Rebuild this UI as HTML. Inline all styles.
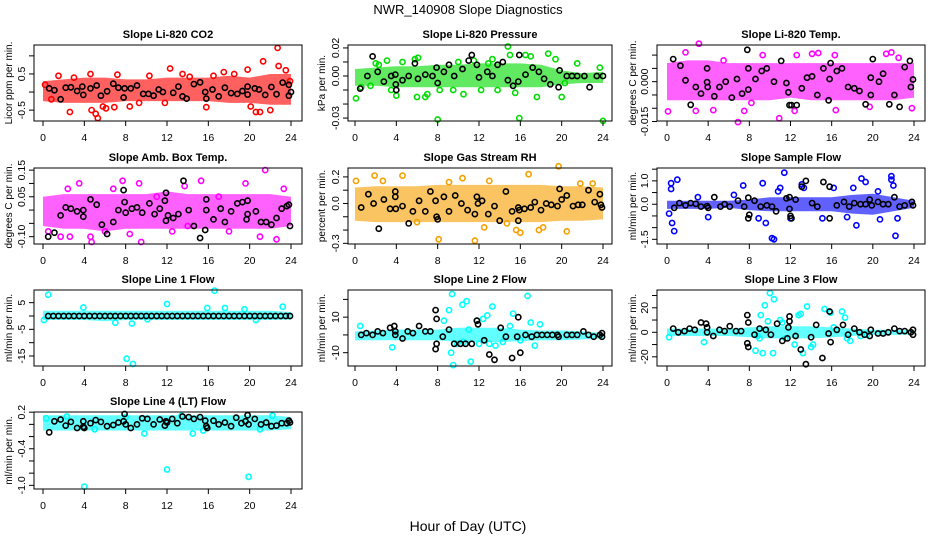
<!DOCTYPE html>
<html><head><meta charset="utf-8"><style>
html,body{margin:0;padding:0;background:#fff;}
svg{display:block;font-family:"Liberation Sans",Arial,sans-serif;}
</style></head><body>
<svg id="c" width="936" height="540" viewBox="0 0 936 540" xmlns="http://www.w3.org/2000/svg">
<text x="468" y="14" text-anchor="middle" font-size="13">NWR_140908  Slope Diagnostics</text>
<text x="468" y="531" text-anchor="middle" font-size="14">Hour of Day (UTC)</text>
</svg>
<script>
const hourTicks = [0,4,8,12,16,20,24];
const bandHours = [0,2,4,6,8,10,12,14,16,18,20,22,24];

const co2Title = "Slope Li-820 CO2";
const co2Ticks = [-0.5,0,0.5,1.0];
const co2TickLabels = ["-0.5","","0.5",""];
const co2BandLo = [-0.25,-0.3,-0.3,-0.3,-0.25,-0.25,-0.25,-0.25,-0.25,-0.3,-0.3,-0.35,-0.35];
const co2BandHi = [0.3,0.35,0.4,0.4,0.35,0.35,0.4,0.4,0.4,0.45,0.4,0.5,0.5];
const co2Pts = [[2.6,-0.55],[4.7,-0.5],[5.1,-0.6],[5.3,-0.72],[4.6,0.5],[7.2,0.48],[5.8,-0.4],[6.1,-0.45],[6.9,-0.42],[8.4,-0.4],[12.3,0.65],[13.5,0.5],[15.8,-0.42],[16.5,0.45],[17.5,0.55],[19.8,0.62],[20.1,-0.4],[20.6,-0.55],[21.0,-0.55],[21.3,0.85],[22.0,-0.5],[22.7,1.22],[22.8,0.72],[23.5,0.6],[10.3,0.45],[3.0,0.4],[1.5,0.45],[14.2,0.42],[18.5,0.5],[9.3,-0.3],[0.2,0.2],[0.8,-0.2],[11.8,-0.3],[23.9,0.3]];
const co2Black = [[0.6,0.1],[1.1,0.05],[1.7,-0.2],[2.2,0.12],[2.7,0.13],[3.3,0.03],[3.8,0.15],[3.9,-0.08],[4.6,0.1],[5.2,0.18],[5.6,-0.1],[6.2,0.02],[6.8,0.23],[7.3,0.12],[7.8,-0.15],[7.9,0.1],[8.5,0.1],[9.1,0.18],[9.7,-0.05],[10.2,-0.05],[10.7,-0.1],[11.2,0.07],[11.6,0.0],[12.6,-0.02],[13.1,0.15],[13.5,-0.12],[13.9,-0.18],[14.6,0.22],[15.2,0.27],[15.7,0.0],[15.8,-0.18],[16.4,0.07],[17.0,-0.12],[17.6,0.12],[18.2,-0.03],[18.8,-0.05],[19.3,0.03],[19.8,0.15],[19.8,-0.07],[20.5,0.1],[20.9,0.07],[21.5,-0.08],[22.1,0.14],[22.6,-0.06],[23.2,0.26],[23.8,0.2],[23.8,-0.1],[24,0.0]];

const presTitle = "Slope Li-820 Pressure";
const presTicks = [-0.03,-0.02,-0.01,0,0.01,0.02];
const presTickLabels = ["-0.03","","","0.00","","0.02"];
const presBandLo = [-0.007,-0.007,-0.008,-0.008,-0.008,-0.008,-0.008,-0.008,-0.008,-0.008,-0.006,-0.005,-0.005];
const presBandHi = [0.005,0.006,0.007,0.007,0.008,0.008,0.009,0.009,0.009,0.008,0.004,0.002,0.003];
const presPts = [[0.1,-0.016],[0.6,-0.008],[1.5,-0.007],[2.3,0.008],[3.1,0.011],[3.5,-0.01],[4.0,-0.014],[4.6,0.01],[5.8,0.012],[6.1,0.013],[6.0,-0.015],[6.8,-0.015],[7.0,-0.013],[8.0,-0.031],[8.2,-0.01],[9.5,-0.01],[10.5,-0.013],[11.5,0.011],[12.2,-0.01],[13.3,0.012],[13.8,-0.01],[14.8,0.021],[15.0,0.015],[15.5,-0.012],[15.9,-0.030],[16.5,0.015],[17.0,0.014],[17.6,-0.015],[18.7,0.016],[19.4,0.012],[20.0,-0.015],[20.3,-0.005],[21.5,0.009],[23.7,0.006],[24,-0.032],[12.9,0.009],[10.0,0.010],[2.0,0.009]];
const presBlack = [[0.5,-0.009],[1.2,0],[1.7,0.014],[2.2,0.003],[2.8,-0.004],[3.5,0],[3.9,0.001],[3.95,-0.006],[4,-0.01],[4.6,-0.003],[5.2,0],[5.8,0.009],[6.1,-0.002],[6.8,0.001],[7.5,0],[7.9,0.006],[8.0,-0.005],[8.6,0.003],[9.1,0.008],[9.6,0],[10.4,0.005],[11.0,0.011],[11.3,0.015],[11.8,0.008],[12.0,-0.001],[12.8,0.003],[13.3,0],[13.8,0.008],[14.3,0.010],[14.8,-0.003],[15.3,-0.007],[15.8,-0.004],[15.9,0.015],[16.5,0.001],[17.2,0.006],[17.8,0.003],[18.3,-0.002],[18.9,-0.006],[19.7,-0.008],[19.8,0.004],[20.5,0],[21.0,0],[21.5,0],[22.2,0],[22.7,-0.008],[23.4,0],[24,0]];

const tempTitle = "Slope Li-820 Temp.";
const tempTicks = [-0.015,-0.010,-0.005,0,0.005,0.010];
const tempTickLabels = ["-0.015","","","0.000","",""];
const tempBandLo = [-0.007,-0.007,-0.007,-0.007,-0.007,-0.007,-0.006,-0.007,-0.007,-0.007,-0.007,-0.007,-0.006];
const tempBandHi = [0.007,0.008,0.008,0.007,0.007,0.007,0.007,0.007,0.007,0.007,0.007,0.007,0.007];
const tempPts = [[3.1,0.0143],[6.9,-0.0152],[10.9,-0.0138],[0.1,-0.0112],[1.8,0.011],[4.5,-0.0107],[7.5,-0.011],[9.3,0.01],[12.6,0.01],[14.1,0.0105],[14.7,0.0108],[16.4,-0.0107],[16.3,0.01],[19.7,-0.0095],[21.3,0.0105],[21.8,0.011],[23.8,-0.01],[2.8,-0.011],[12.4,-0.011],[8.2,-0.008],[22.5,0.009],[5.5,0.008]];
const tempBlack = [[0.6,0.0085],[1.3,0.006],[1.8,0.0005],[2.3,-0.0087],[2.8,-0.002],[3.3,-0.0045],[3.9,0.005],[3.9,-0.0002],[3.95,-0.002],[4.6,-0.0055],[5.1,-0.002],[5.7,0.0],[6.3,-0.006],[6.8,0.001],[7.3,-0.0045],[7.8,0.012],[7.9,0.005],[7.9,-0.003],[8.6,0.001],[9.2,0.004],[9.7,0.005],[10.4,0],[11.1,0.0078],[11.6,-0.0005],[11.8,-0.004],[11.9,-0.0088],[12.1,-0.0088],[12.6,-0.0088],[13.1,-0.0025],[13.6,0.0015],[14.1,0.002],[14.6,-0.005],[15.2,0.005],[15.7,-0.007],[15.8,0.001],[15.9,0.007],[16.5,0.004],[17.0,0.005],[17.6,-0.002],[18.2,-0.0025],[18.7,-0.0035],[19.3,-0.0085],[19.8,0.0015],[19.8,-0.005],[20.0,0.0085],[20.6,0],[21.0,0.003],[21.6,-0.0085],[22.1,-0.005],[22.6,-0.0095],[23.1,0.0055],[23.6,0.0078],[23.7,-0.002],[23.9,0.0008]];

const ambTitle = "Slope Amb. Box Temp.";
const ambTicks = [-0.10,-0.05,0,0.05,0.10,0.15];
const ambTickLabels = ["-0.10","","","0.05","","0.15"];
const ambBandLo = [-0.06,-0.07,-0.07,-0.08,-0.07,-0.07,-0.07,-0.07,-0.07,-0.07,-0.07,-0.07,-0.06];
const ambBandHi = [0.05,0.06,0.06,0.06,0.06,0.06,0.07,0.06,0.06,0.06,0.06,0.06,0.05];
const ambPts = [[0.5,-0.08],[1.7,-0.1],[2.4,0.08],[3.5,0.1],[4.6,-0.1],[4.7,-0.12],[6.0,-0.08],[7.7,0.11],[8.4,-0.09],[9.3,0.1],[9.5,-0.12],[11.0,0.05],[13.7,0.09],[15.3,0.11],[17.0,0.05],[18.0,-0.08],[19.6,0.1],[21.0,-0.1],[21.5,0.15],[22.6,-0.11],[23.3,0.08],[12.5,-0.08],[2.6,-0.1],[14.0,-0.06],[6.8,0.08]];
const ambBlack = [[0.5,-0.1],[1.1,-0.085],[1.7,-0.02],[2.2,0.01],[2.7,0.005],[3.3,-0.005],[3.9,-0.025],[3.9,0],[4.6,0.04],[5.2,0.02],[5.7,-0.055],[6.2,-0.09],[6.8,-0.045],[7.3,0.0],[7.8,0.075],[7.9,0.03],[8.0,-0.01],[8.6,0.005],[9.1,0.01],[9.6,-0.01],[10.3,0.025],[10.8,-0.015],[11.3,0.005],[11.8,0.035],[11.9,0.065],[11.9,-0.04],[12.1,-0.02],[12.6,-0.03],[13.1,-0.015],[13.6,0.11],[14.1,0.0],[14.6,-0.06],[15.2,-0.105],[15.7,-0.075],[15.8,0.0],[15.8,0.04],[16.5,-0.035],[17.2,0.005],[17.6,-0.045],[18.2,-0.005],[18.8,0.025],[19.3,0.03],[19.7,-0.035],[19.8,0.035],[19.8,-0.015],[20.6,-0.005],[21.1,-0.045],[21.6,-0.045],[22.1,-0.055],[22.6,-0.03],[23.1,0.005],[23.6,0.015],[23.8,0.02],[23.9,-0.06]];

const rhTitle = "Slope Gas Stream RH";
const rhTicks = [-0.3,-0.2,-0.1,0,0.1,0.2];
const rhTickLabels = ["-0.3","","","0.0","","0.2"];
const rhBandLo = [-0.13,-0.14,-0.14,-0.14,-0.14,-0.14,-0.14,-0.14,-0.14,-0.14,-0.13,-0.13,-0.12];
const rhBandHi = [0.12,0.13,0.13,0.13,0.14,0.14,0.14,0.14,0.14,0.14,0.13,0.13,0.12];
const rhPts = [[0.1,0.17],[1.9,0.21],[2.7,0.17],[4.6,0.21],[8.1,-0.27],[9.1,0.16],[11.6,-0.28],[12.5,-0.18],[14.7,-0.15],[15.6,-0.2],[16.0,-0.22],[17.8,-0.2],[18.2,-0.18],[19.7,0.28],[20.5,-0.21],[21.8,0.15],[10.4,0.19],[16.8,0.22],[13.0,0.17],[6.0,-0.14],[23.0,0.15]];
const rhBlack = [[0.6,-0.03],[1.3,0.07],[1.8,0.0],[2.3,-0.19],[2.8,0.03],[3.4,-0.04],[3.9,0.09],[3.9,0.05],[3.95,-0.04],[4.6,-0.02],[5.2,-0.15],[5.6,-0.06],[6.2,0.02],[6.8,-0.06],[7.3,0.09],[7.8,0.02],[7.9,-0.1],[8.0,-0.12],[8.6,0.05],[9.1,-0.06],[9.7,0.06],[10.3,0.0],[10.9,-0.05],[11.6,-0.08],[11.8,0.05],[11.9,0.0],[12.3,0.02],[12.9,-0.08],[13.5,-0.02],[14.0,-0.13],[14.6,0.09],[15.2,-0.06],[15.8,-0.13],[15.8,-0.03],[15.9,-0.05],[16.4,-0.04],[17.0,-0.03],[17.4,0.01],[18.0,-0.05],[18.5,0.0],[19.0,-0.01],[19.6,-0.02],[19.8,0.11],[20.0,0.03],[20.5,0.06],[21.1,-0.02],[21.6,-0.01],[22.0,-0.01],[22.6,0.1],[23.2,0.01],[23.7,0.07],[23.8,-0.01],[23.9,-0.03]];

const sfTitle = "Slope Sample Flow";
const sfTicks = [-1.5,-1.0,-0.5,0,0.5,1.0,1.5];
const sfTickLabels = ["-1.5","","","0.0","","1.0",""];
const sfBandLo = [-0.2,-0.2,-0.2,-0.15,-0.25,-0.3,-0.3,-0.3,-0.3,-0.4,-0.45,-0.3,-0.15];
const sfBandHi = [0.15,0.15,0.15,0.15,0.2,0.3,0.3,0.3,0.3,0.4,0.45,0.3,0.15];
const sfPts = [[0.2,-0.4],[0.4,0.65],[0.5,-0.8],[0.7,-1.15],[0.4,0.9],[1.0,1.05],[4.0,-0.55],[7.4,0.8],[8.9,-0.6],[9.3,0.9],[9.6,-0.8],[10.2,-1.45],[10.4,-1.5],[10.8,0.55],[11.4,1.35],[11.0,0.7],[13.3,0.7],[13.1,0.85],[15.1,-0.6],[16.2,0.7],[17.5,-0.55],[18.1,0.7],[18.4,-0.9],[18.9,1.1],[19.3,0.95],[20.5,0.55],[20.7,-0.65],[21.8,1.2],[21.8,1.05],[22.0,0.8],[22.2,-1.35],[22.4,-0.6],[12.0,-0.6],[6.5,0.4],[3.0,0.3]];
const sfBlack = [[0.7,-0.15],[1.2,0.05],[1.8,-0.05],[2.3,0.05],[2.8,0.02],[3.3,-0.1],[3.9,-0.08],[4.0,-0.15],[4.6,0.3],[5.2,-0.1],[5.6,0.0],[6.1,-0.1],[6.9,0.15],[7.5,-0.1],[7.9,0.28],[7.9,-0.6],[8.0,-0.45],[8.5,0.15],[9.1,-0.1],[9.7,-0.05],[10.2,-0.1],[10.6,-0.3],[11.6,0.25],[11.9,0.3],[11.9,-0.2],[12.0,-0.5],[12.1,-0.6],[12.5,0.2],[13.1,0.75],[13.5,1.0],[14.1,0.05],[14.6,-0.1],[15.2,0.95],[15.8,0.75],[15.8,-0.6],[16.5,-0.05],[17.2,0.1],[17.7,-0.1],[18.2,0.05],[18.8,0.0],[19.3,0.0],[19.7,0.2],[19.9,-0.05],[20.5,0.1],[21.0,0.0],[21.5,0.0],[22.1,0.3],[22.6,-0.1],[23.1,-0.05],[23.8,0.1],[23.9,-0.05]];

const l1Title = "Slope Line 1 Flow";
const l1Ticks = [-15,-10,-5,0,5];
const l1TickLabels = ["-15","","-5","","5"];
const l1BandLo = [-1.5,-1.5,-1.5,-2,-1.5,-1.5,-1.5,-1.5,-1.5,-1.5,-1.5,-1.5,-1.3];
const l1BandHi = [2,2,2,2,2,2,2,2,2,2,2,2,1.5];
const l1Pts = [[0.5,8],[16.6,9.5],[8.1,-16],[8.7,-18],[12.0,4.5],[3.9,3.2],[15.9,3],[17.6,3],[23.2,3.5],[0.1,-1.5],[7.0,-2.5],[20.6,-1.5],[8.6,-2.8],[19.5,2.5],[10.1,-1.2]];
const l1Black = [[0.5,0],[1,0],[1.5,0],[2,0],[2.5,0],[3,0],[3.5,0],[4,0],[4.5,0],[5,0],[5.5,0],[6,0],[6.5,0],[7,0],[7.5,0],[8,0],[8.5,0],[9,0],[9.5,0],[10,0],[10.5,0],[11,0],[11.5,0],[12,0],[12.5,0],[13,0],[13.5,0],[14,0],[14.5,0],[15,0],[15.5,0],[16,0],[16.5,0],[17,0],[17.5,0],[18,0],[18.5,0],[19,0],[19.5,0],[20,0],[20.5,0],[21,0],[21.5,0],[22,0],[22.5,0],[23,0],[23.5,0],[23.9,0]];

const l2Title = "Slope Line 2 Flow";
const l2Ticks = [-10,0,10,20];
const l2TickLabels = ["-10","","10",""];
const l2BandLo = [-3,-3,-3,-3,-3,-4,-4,-4,-3.5,-3,-3,-2.5,-2];
const l2BandHi = [2,2.5,3,3,3,4,4,4,3,2.5,2.5,2,1];
const l2Pts = [[0.5,5],[3.6,-7],[8.6,8],[9.1,14],[9.4,23],[9.3,-10],[9.5,-17],[10.4,17],[10.8,19],[11.2,-15],[10.5,-4],[11.0,3],[11.8,8],[12.4,9],[12.8,11],[13.0,-5],[13.6,-6],[13.3,16],[14.3,-4],[15.0,5],[15.3,12],[16.7,22],[17.0,7],[17.4,-6],[17.9,6],[16.0,-3],[9.9,-5],[12.0,-5]];
const l2Black = [[0.6,0],[1.1,1],[1.7,0],[2.2,2],[2.7,1],[3.4,4],[3.8,5],[3.9,2],[3.9,0],[4.6,-2],[5.1,2],[5.6,1],[6.2,5],[6.8,2],[7.3,2],[7.8,14],[7.9,9],[7.8,-8],[7.9,-5],[8.5,-1],[9.1,3],[9.6,-5],[10.2,-5],[10.7,-5],[11.3,-5],[11.8,8],[11.9,6],[12.5,-3],[13.0,-11],[13.5,-14],[14.1,4],[14.6,-1],[15.2,-13],[15.7,-1],[15.8,10],[16.0,-10],[16.5,0],[17.1,-1],[17.6,0],[18.1,0],[18.6,0],[19.1,0],[19.6,0],[19.7,-1],[20.5,0],[21.0,0],[21.5,0],[22.1,2],[22.6,0],[23.1,-1],[23.7,0],[23.9,1],[23.9,-1]];

const l3Title = "Slope Line 3 Flow";
const l3Ticks = [-20,-10,0,10,20,30];
const l3TickLabels = ["-20","","0","","20",""];
const l3BandLo = [-3,-3,-3,-3,-4,-5,-5,-5,-4,-3,-2,-2,-2];
const l3BandHi = [3,3,3,3,4,5,5,5,4,3,2,2,2];
const l3Pts = [[0.2,-4],[3.6,-8],[8.6,-15],[9.1,14],[9.5,22],[9.3,-17],[10.0,32],[10.4,27],[10.3,-17],[9.8,9],[11.2,8],[11.5,-5],[12.8,14],[13.0,15],[13.2,-17],[13.6,21],[14.0,-12],[14.2,-10],[15.3,19],[15.9,16],[17.0,17],[17.3,12],[16.2,4],[17.5,-5],[12.4,-10],[11.0,10],[8.8,-3],[9.0,-5],[18.8,-3],[19.4,-2],[17.8,-7]];
const l3Black = [[0.6,3],[1.1,0],[1.7,1],[2.2,3],[2.7,2],[3.3,8],[3.8,7],[3.9,4],[3.9,0],[4.5,-3],[5.1,2],[5.6,1],[6.1,5],[6.7,1],[7.2,1],[7.8,14],[7.9,8],[7.8,-9],[7.9,-12],[8.5,-2],[9.0,3],[9.6,2],[10.1,-2],[10.7,7],[11.2,-7],[11.7,-5],[11.8,4],[11.9,9],[11.9,13],[12.5,-3],[13.0,-14],[13.5,-26],[14.0,-4],[14.5,6],[15.1,-21],[15.7,-1],[15.8,17],[15.9,-8],[16.5,2],[17.1,6],[17.6,-2],[18.2,3],[18.7,0],[19.2,-2],[19.7,-3],[19.8,2],[20.5,-1],[21.0,-1],[21.5,0],[22.1,3],[22.6,1],[23.1,1],[23.7,0],[23.9,2],[23.9,-2]];

const l4Title = "Slope Line 4 (LT) Flow";
const l4Ticks = [-1.0,-0.8,-0.6,-0.4,-0.2,0,0.2];
const l4TickLabels = ["-1.0","","","-0.4","","","0.2"];
const l4BandLo = [-0.1,-0.1,-0.1,-0.1,-0.1,-0.1,-0.1,-0.1,-0.1,-0.1,-0.1,-0.1,-0.08];
const l4BandHi = [0.15,0.15,0.15,0.15,0.15,0.15,0.15,0.15,0.15,0.15,0.15,0.15,0.12];
const l4Pts = [[4.0,-1.02],[12.0,-0.74],[19.9,-0.86],[9.8,-0.15],[14.5,-0.15],[0.3,0.1],[2.3,0.13],[8.0,0.12],[13.4,0.14],[22.2,0.14],[5.0,-0.08],[15.5,-0.1],[21.0,-0.08]];
const l4Black = [[0.6,-0.13],[1.1,0.05],[1.7,0.08],[2.2,-0.02],[2.7,0.04],[3.3,-0.06],[3.9,0.05],[3.9,-0.04],[4.0,-0.06],[4.6,0.02],[5.1,0.07],[5.6,0.04],[6.2,-0.03],[6.8,-0.01],[7.3,0.03],[7.8,0.05],[7.9,0.17],[8.0,0.0],[8.5,-0.06],[9.1,0.0],[9.6,0.1],[10.1,0.09],[10.7,0.0],[11.3,0.08],[11.8,-0.02],[11.9,0.05],[12.0,0.03],[12.5,0.09],[13.0,0.02],[13.5,0.13],[14.1,0.12],[14.6,0.09],[15.2,0.12],[15.7,0.06],[15.8,-0.03],[15.9,-0.06],[16.5,0.06],[17.0,0.0],[17.6,0.03],[18.2,-0.03],[18.7,0.11],[19.2,0.02],[19.6,0.05],[19.8,0.15],[19.9,0.0],[20.5,0.09],[21.1,0.0],[21.6,0.03],[22.1,-0.03],[22.6,-0.02],[23.1,0.02],[23.6,0.02],[23.8,0.06],[23.9,0.03]];

const NS = "http://www.w3.org/2000/svg";
const svg = document.getElementById('c');
function mk(tag, attrs, parent){ const e=document.createElementNS(NS,tag); for(const k in attrs) e.setAttribute(k,attrs[k]); (parent||svg).appendChild(e); return e; }

const cols = [{l:34,r:302,x0:43,x24:291,yl:8},{l:348,r:612,x0:355,x24:603,yl:321},{l:657,r:925,x0:667,x24:914,yl:632}];
const rows = [{t:45,b:121},{t:168,b:244},{t:290,b:366},{t:412,b:489}];

const panels = [
 {id:'co2',c:0,r:0,title:co2Title,yl:'Licor ppm per min.',ymax:1.3,ymin:-0.8,ticks:co2Ticks,lab:co2TickLabels,lo:co2BandLo,hi:co2BandHi,pts:co2Pts,blk:co2Black,col:'#ff0000'},
 {id:'pressure',c:1,r:0,title:presTitle,yl:'kPa per min.',ymax:0.0221,ymin:-0.0321,ticks:presTicks,lab:presTickLabels,lo:presBandLo,hi:presBandHi,pts:presPts,blk:presBlack,col:'#00dd00'},
 {id:'temp',c:2,r:0,title:tempTitle,yl:'degrees C per min.',ymax:0.0138,ymin:-0.0148,ticks:tempTicks,lab:tempTickLabels,lo:tempBandLo,hi:tempBandHi,pts:tempPts,blk:tempBlack,col:'#ff00ff'},
 {id:'amb',c:0,r:1,title:ambTitle,yl:'degrees C per min.',ymax:0.158,ymin:-0.1275,ticks:ambTicks,lab:ambTickLabels,lo:ambBandLo,hi:ambBandHi,pts:ambPts,blk:ambBlack,col:'#ff00ff'},
 {id:'rh',c:1,r:1,title:rhTitle,yl:'percent per min.',ymax:0.267,ymin:-0.305,ticks:rhTicks,lab:rhTickLabels,lo:rhBandLo,hi:rhBandHi,pts:rhPts,blk:rhBlack,col:'#f5a000'},
 {id:'sampleflow',c:2,r:1,title:sfTitle,yl:'ml/min per min.',ymax:1.55,ymin:-1.7,ticks:sfTicks,lab:sfTickLabels,lo:sfBandLo,hi:sfBandHi,pts:sfPts,blk:sfBlack,col:'#0000ff'},
 {id:'line1',c:0,r:2,title:l1Title,yl:'ml/min per min.',ymax:9.75,ymin:-18.75,ticks:l1Ticks,lab:l1TickLabels,lo:l1BandLo,hi:l1BandHi,pts:l1Pts,blk:l1Black,col:'#00ffff'},
 {id:'line2',c:1,r:2,title:l2Title,yl:'ml/min per min.',ymax:25.3,ymin:-17.5,ticks:l2Ticks,lab:l2TickLabels,lo:l2BandLo,hi:l2BandHi,pts:l2Pts,blk:l2Black,col:'#00ffff'},
 {id:'line3',c:2,r:2,title:l3Title,yl:'ml/min per min.',ymax:34.5,ymin:-27.5,ticks:l3Ticks,lab:l3TickLabels,lo:l3BandLo,hi:l3BandHi,pts:l3Pts,blk:l3Black,col:'#00ffff'},
 {id:'line4',c:0,r:3,title:l4Title,yl:'ml/min per min.',ymax:0.203,ymin:-1.06,ticks:l4Ticks,lab:l4TickLabels,lo:l4BandLo,hi:l4BandHi,pts:l4Pts,blk:l4Black,col:'#00ffff'}
];

panels.forEach(p=>{
  const C=cols[p.c], R=rows[p.r];
  const xs = h => C.x0 + (C.x24-C.x0)*h/24;
  const ys = v => R.t + (p.ymax - v)/(p.ymax-p.ymin)*(R.b-R.t);
  const g = mk('g',{});
  
  
  const t = mk('text',{x:(C.l+C.r)/2,y:R.t-7,'text-anchor':'middle','font-size':11,'font-weight':'bold'},g);
  t.textContent=p.title;
  
  
  let d='';
  bandHours.forEach((h,i)=>{ d+=(i?'L':'M')+xs(h).toFixed(1)+','+ys(p.hi[i]).toFixed(1); });
  for(let i=bandHours.length-1;i>=0;i--) d+='L'+xs(bandHours[i]).toFixed(1)+','+ys(p.lo[i]).toFixed(1);
  const band = mk('path',{d:d+'Z',fill:p.col,'fill-opacity':0.62,stroke:'none'},g);
  
  
  p.pts.forEach(q=>{
    const c = mk('circle',{cx:xs(q[0]).toFixed(1),cy:ys(q[1]).toFixed(1),r:2.6,fill:'none',stroke:p.col,'stroke-width':1.6},g);
    
    
  });
  p.blk.forEach(q=>{
    const c = mk('circle',{cx:xs(q[0]).toFixed(1),cy:ys(q[1]).toFixed(1),r:2.6,fill:'none',stroke:'#000','stroke-width':1.6},g);
    
    
  });
  const box = mk('rect',{x:C.l,y:R.t,width:C.r-C.l,height:R.b-R.t,fill:'none',stroke:'#000','stroke-width':1},g);
  
  
  const xa = mk('path',{d:'M'+xs(0)+','+R.b+'H'+xs(24),stroke:'#000',fill:'none'},g);
  
  
  hourTicks.forEach(h=>{
    mk('line',{x1:xs(h),x2:xs(h),y1:R.b,y2:R.b+5,stroke:'#000'},g);
    const tl = mk('text',{x:xs(h),y:R.b+20,'text-anchor':'middle','font-size':10.5},g);
    tl.textContent=h;
    
    
  });
  const ya = mk('path',{d:'M'+C.l+','+ys(p.ticks[0])+'V'+ys(p.ticks[p.ticks.length-1]),stroke:'#000',fill:'none'},g);
  
  
  p.ticks.forEach((v,i)=>{
    const y=ys(v);
    mk('line',{x1:C.l-5,x2:C.l,y1:y,y2:y,stroke:'#000'},g);
    if(p.lab[i]){
      const tl = mk('text',{x:C.l-9,y:y,'text-anchor':'middle','font-size':10.5,transform:'rotate(-90 '+(C.l-9)+' '+y+')'},g);
      tl.textContent=p.lab[i];
      
      
    }
  });
  const ym=(R.t+R.b)/2;
  const yt = mk('text',{x:C.yl+4,y:ym,'text-anchor':'middle','font-size':10,transform:'rotate(-90 '+(C.yl+4)+' '+ym+')'},g);
  yt.textContent=p.yl;
  
  
});
</script>
</body></html>
